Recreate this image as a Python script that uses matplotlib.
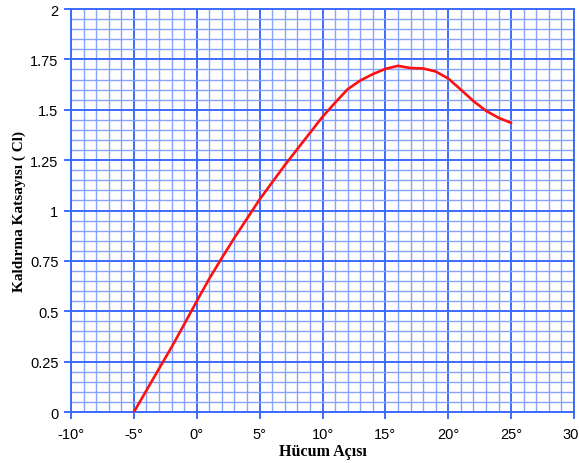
"""Lift coefficient vs angle of attack on blue graph paper."""

import matplotlib.pyplot as plt
from matplotlib.ticker import MultipleLocator, FuncFormatter

# angle of attack (deg) and lift coefficient
alpha = [-5, -4, -3, -2, -1, 0, 1, 2, 3, 4, 5, 6, 7, 8, 9, 10, 11, 12,
         13, 14, 15, 16, 17, 18, 19, 20, 21, 22, 23, 24, 25]
cl = [0.0, 0.107, 0.215, 0.322, 0.435, 0.55, 0.662, 0.765, 0.865, 0.96,
      1.055, 1.14, 1.225, 1.305, 1.385, 1.465, 1.535, 1.602, 1.645, 1.677,
      1.703, 1.718, 1.707, 1.705, 1.69, 1.655, 1.6, 1.543, 1.495, 1.46, 1.435]

x_ticks = [-10, -5, 0, 5, 10, 15, 20, 25, 30]
y_ticks = [0, 0.25, 0.5, 0.75, 1, 1.25, 1.5, 1.75, 2]
y_tick_labels = ["0", "0.25", "0.5", "0.75", "1", "1.25", "1.5", "1.75", "2"]

MAJOR = "#3d6bff"
MINOR = "#86a3ff"

fig = plt.figure(figsize=(5.79, 4.64), dpi=100)
ax = fig.add_axes([0.1226, 0.1099, 0.8688, 0.8685])

ax.plot(alpha, cl, color="#ff1010", lw=1.9, zorder=5,
        solid_joinstyle="round", solid_capstyle="round")

ax.set_xlim(-10, 30)
ax.set_ylim(0, 2)
ax.set_xticks(x_ticks)
ax.xaxis.set_major_formatter(FuncFormatter(lambda v, p: f"{int(v)}°"))
ax.set_yticks(y_ticks)
ax.set_yticklabels(y_tick_labels)
ax.xaxis.set_minor_locator(MultipleLocator(1))
ax.yaxis.set_minor_locator(MultipleLocator(0.05))

ax.grid(which="minor", color=MINOR, lw=1.0)
ax.grid(which="major", color=MAJOR, lw=1.4)
ax.set_axisbelow(True)

for s in ax.spines.values():
    s.set_color(MAJOR)
    s.set_linewidth(1.4)

ax.tick_params(which="major", direction="out", length=5, width=1.4,
               color=MAJOR, labelsize=10.5)
ax.tick_params(axis="y", pad=4)
ax.tick_params(axis="x", pad=6)
ax.tick_params(which="minor", length=0)
for lab in ax.get_xticklabels() + ax.get_yticklabels():
    lab.set_fontfamily("Liberation Sans")

ax.set_xlabel("Hücum Açısı", fontfamily="Liberation Serif",
              fontweight="bold", fontsize=11.5, labelpad=1)
ax.set_ylabel("Kaldırma Katsayısı ( Cl)", fontfamily="Liberation Serif",
              fontweight="bold", fontsize=11, labelpad=3)

fig.savefig("out.png", dpi=100)
